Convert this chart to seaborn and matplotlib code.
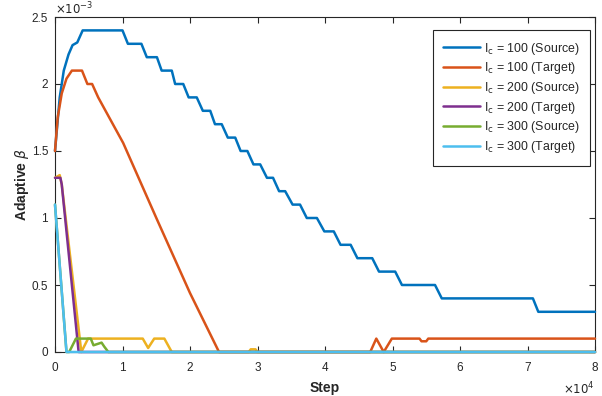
import numpy as np
import pandas as pd
import matplotlib
matplotlib.use("Agg")
import matplotlib.pyplot as plt
import seaborn as sns
from matplotlib.ticker import FuncFormatter, MultipleLocator

# ---------------- data (beta values in units of 1e-3) ----------------
BETA_UNIT = 1e-3

src100_step = [0, 700, 1300, 2000, 2600, 3300, 4100, 10000, 10800, 12800, 13600, 15100,
               15800, 17300, 17800, 19000, 19800, 21000, 21900, 23000, 23700, 24700,
               25600, 26700, 27500, 28500, 29400, 30400, 31400, 32300, 33200, 34100,
               35200, 36300, 37300, 38800, 39900, 41300, 42300, 43800, 44800, 47000,
               48000, 50400, 51400, 56300, 57300, 70800, 71600, 80000]
src100_beta = [1.5, 1.9, 2.1, 2.22, 2.29, 2.31, 2.4, 2.4, 2.3, 2.3, 2.2, 2.2,
               2.1, 2.1, 2.0, 2.0, 1.9, 1.9, 1.8, 1.8, 1.7, 1.7,
               1.6, 1.6, 1.5, 1.5, 1.4, 1.4, 1.3, 1.3, 1.2, 1.2,
               1.1, 1.1, 1.0, 1.0, 0.9, 0.9, 0.8, 0.8, 0.7, 0.7,
               0.6, 0.6, 0.5, 0.5, 0.4, 0.4, 0.3, 0.3]

tgt100_step = [0, 400, 1000, 1700, 2500, 4000, 4800, 5500, 6400, 10100, 15100, 20000,
               24300, 46700, 47600, 48700, 49900, 54000, 54300, 55000, 55300, 80000]
tgt100_beta = [1.5, 1.75, 1.93, 2.04, 2.1, 2.1, 2.0, 2.0, 1.9, 1.56, 0.99, 0.44,
               0.0, 0.0, 0.1, 0.0, 0.1, 0.1, 0.08, 0.08, 0.1, 0.1]

src200_step = [0, 700, 1000, 3900, 4900, 13000, 13800, 14700, 16200, 17300, 28700,
               29000, 29700, 30000, 80000]
src200_beta = [1.3, 1.32, 1.25, 0.0, 0.1, 0.1, 0.03, 0.1, 0.1, 0.0, 0.0,
               0.02, 0.02, 0.0, 0.0]

tgt200_step = [0, 800, 1000, 3500, 80000]
tgt200_beta = [1.3, 1.3, 1.25, 0.0, 0.0]

src300_step = [0, 1700, 2100, 3100, 5300, 5700, 6300, 6900, 7300, 7900, 80000]
src300_beta = [1.1, 0.0, 0.0, 0.1, 0.1, 0.05, 0.06, 0.07, 0.04, 0.0, 0.0]

tgt300_step = [0, 1700, 80000]
tgt300_beta = [1.1, 0.0, 0.0]

labels = [r"I$_\mathrm{c}$ = 100 (Source)", r"I$_\mathrm{c}$ = 100 (Target)",
          r"I$_\mathrm{c}$ = 200 (Source)", r"I$_\mathrm{c}$ = 200 (Target)",
          r"I$_\mathrm{c}$ = 300 (Source)", r"I$_\mathrm{c}$ = 300 (Target)"]
colors = ["#0072BD", "#D95319", "#EDB120", "#7E2F8E", "#77AC30", "#4DBEEE"]

x_ticks = [0, 10000, 20000, 30000, 40000, 50000, 60000, 70000, 80000]

series = [(src100_step, src100_beta), (tgt100_step, tgt100_beta),
          (src200_step, src200_beta), (tgt200_step, tgt200_beta),
          (src300_step, src300_beta), (tgt300_step, tgt300_beta)]

frames = []
for lab, (s, b) in zip(labels, series):
    frames.append(pd.DataFrame({"Step": s,
                                "beta": np.array(b) * BETA_UNIT,
                                "series": lab}))
df = pd.concat(frames, ignore_index=True)

# ---------------- style ----------------
sns.set_style("ticks")
plt.rcParams["font.family"] = ["Liberation Sans", "DejaVu Sans"]
plt.rcParams["xtick.direction"] = "in"
plt.rcParams["ytick.direction"] = "in"
plt.rcParams["xtick.top"] = True
plt.rcParams["ytick.right"] = True
plt.rcParams["axes.edgecolor"] = "#262626"
plt.rcParams["xtick.color"] = "#262626"
plt.rcParams["ytick.color"] = "#262626"
plt.rcParams["axes.linewidth"] = 0.8

fig = plt.figure(figsize=(6.02, 3.96), dpi=100)
ax = fig.add_axes([55 / 602, 1 - 352 / 396, (595 - 55) / 602, (352 - 17) / 396])

sns.lineplot(data=df, x="Step", y="beta", hue="series", hue_order=labels,
             palette=colors, linewidth=1.8, ax=ax, estimator=None, sort=False)
for ln in ax.get_lines():
    ln.set_clip_on(False)

ax.set_xlim(0, 80000)
ax.set_ylim(0, 2.5e-3)
ax.set_xticks(x_ticks)
ax.yaxis.set_major_locator(MultipleLocator(0.5e-3))
ax.xaxis.set_major_formatter(FuncFormatter(lambda v, p: f"{v / 1e4:g}"))
ax.yaxis.set_major_formatter(FuncFormatter(lambda v, p: f"{v / 1e-3:g}"))
ax.tick_params(labelsize=8.5, length=4, width=0.8, colors="#262626")
ax.tick_params(axis="x", pad=7)
ax.tick_params(axis="y", pad=5)

ax.set_xlabel("Step", fontsize=10, fontweight="bold", labelpad=5)
ax.set_ylabel(r"Adaptive $\beta$", fontsize=10, fontweight="bold", labelpad=0.5)

ax.text(0.0, 1.0, r"$\times10^{-3}$", transform=ax.transAxes, ha="left",
        va="bottom", fontsize=8.5, color="#262626")
ax.text(1.0, -0.085, r"$\times10^{4}$", transform=ax.transAxes, ha="right",
        va="top", fontsize=8.5, color="#262626")

for sp in ax.spines.values():
    sp.set_visible(True)
    sp.set_zorder(1)

leg = ax.legend(loc="upper right", fontsize=8.9, frameon=True, fancybox=False,
                edgecolor="#262626", framealpha=1, handlelength=3.0,
                handletextpad=0.3, borderpad=0.85, labelspacing=0.3,
                borderaxespad=0, bbox_to_anchor=(0.991, 0.961))
leg.get_frame().set_linewidth(0.8)
leg.set_zorder(5)
for line in leg.get_lines():
    line.set_linewidth(1.8)

fig.savefig("out.png", dpi=100)
